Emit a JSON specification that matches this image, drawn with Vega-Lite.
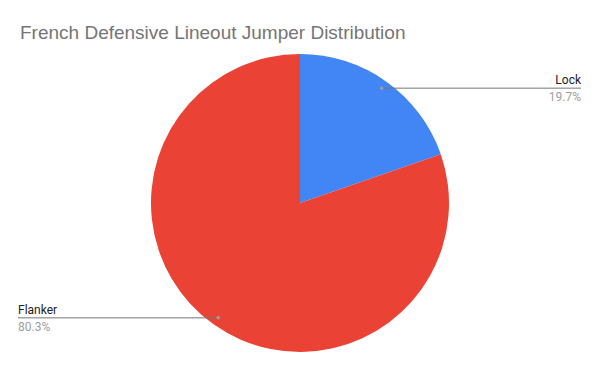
{
  "$schema": "https://vega.github.io/schema/vega-lite/v6.json",
  "width": 600,
  "height": 336,
  "autosize": {"type": "none"},
  "padding": {"top": 35, "left": 0, "right": 0, "bottom": 0},
  "background": "white",
  "title": {
    "text": "French Defensive Lineout Jumper Distribution",
    "anchor": "start",
    "frame": "group",
    "offset": 2,
    "dx": 20,
    "dy": 10,
    "fontSize": 19,
    "font": "Liberation Sans",
    "fontWeight": "normal",
    "color": "#757575"
  },
  "config": {"view": {"stroke": null}},
  "data": {
    "values": [
      {"position": "Lock", "share": 19.7},
      {"position": "Flanker", "share": 80.3}
    ]
  },
  "transform": [
    {"window": [{"op": "sum", "field": "share", "as": "cum"}], "sort": [{"field": "share", "order": "ascending"}], "frame": [null, 0]},
    {"joinaggregate": [{"op": "sum", "field": "share", "as": "total"}]},
    {"calculate": "2*PI*(datum.cum - datum.share/2)/datum.total", "as": "mid"},
    {"calculate": "141*sin(datum.mid)", "as": "px"},
    {"calculate": "141*cos(datum.mid)", "as": "py"},
    {"calculate": "datum.px >= 0 ? 281 : -282", "as": "edge"},
    {"calculate": "format(datum.share, '.1f') + '%'", "as": "pct"}
  ],
  "layer": [
    {
      "mark": {"type": "arc", "outerRadius": 149},
      "encoding": {
        "theta": {"field": "share", "type": "quantitative", "stack": true},
        "color": {"field": "position", "type": "nominal", "scale": {"domain": ["Lock", "Flanker"], "range": ["#4285F4", "#EA4335"]}, "legend": null},
        "order": {"field": "share", "type": "quantitative", "sort": "ascending"}
      }
    },
    {
      "mark": {"type": "rule", "color": "#757575", "strokeWidth": 1},
      "encoding": {
        "x": {"field": "px", "type": "quantitative", "scale": {"domain": [-300, 300], "nice": false, "zero": false}, "axis": null},
        "x2": {"field": "edge"},
        "y": {"field": "py", "type": "quantitative", "scale": {"domain": [-168, 168], "nice": false, "zero": false}, "axis": null}
      }
    },
    {
      "mark": {"type": "point", "filled": true, "color": "#9e9e9e", "size": 12, "opacity": 1},
      "encoding": {
        "x": {"field": "px", "type": "quantitative"},
        "y": {"field": "py", "type": "quantitative"}
      }
    },
    {
      "mark": {"type": "text", "font": "Roboto", "fontSize": 12, "color": "#212121", "baseline": "alphabetic", "dy": -4, "align": {"expr": "datum.px >= 0 ? 'right' : 'left'"}},
      "encoding": {
        "x": {"field": "edge", "type": "quantitative"},
        "y": {"field": "py", "type": "quantitative"},
        "text": {"field": "position"}
      }
    },
    {
      "mark": {"type": "text", "font": "Roboto", "fontSize": 12, "color": "#9e9e9e", "baseline": "alphabetic", "dy": 13, "align": {"expr": "datum.px >= 0 ? 'right' : 'left'"}},
      "encoding": {
        "x": {"field": "edge", "type": "quantitative"},
        "y": {"field": "py", "type": "quantitative"},
        "text": {"field": "pct"}
      }
    }
  ]
}
